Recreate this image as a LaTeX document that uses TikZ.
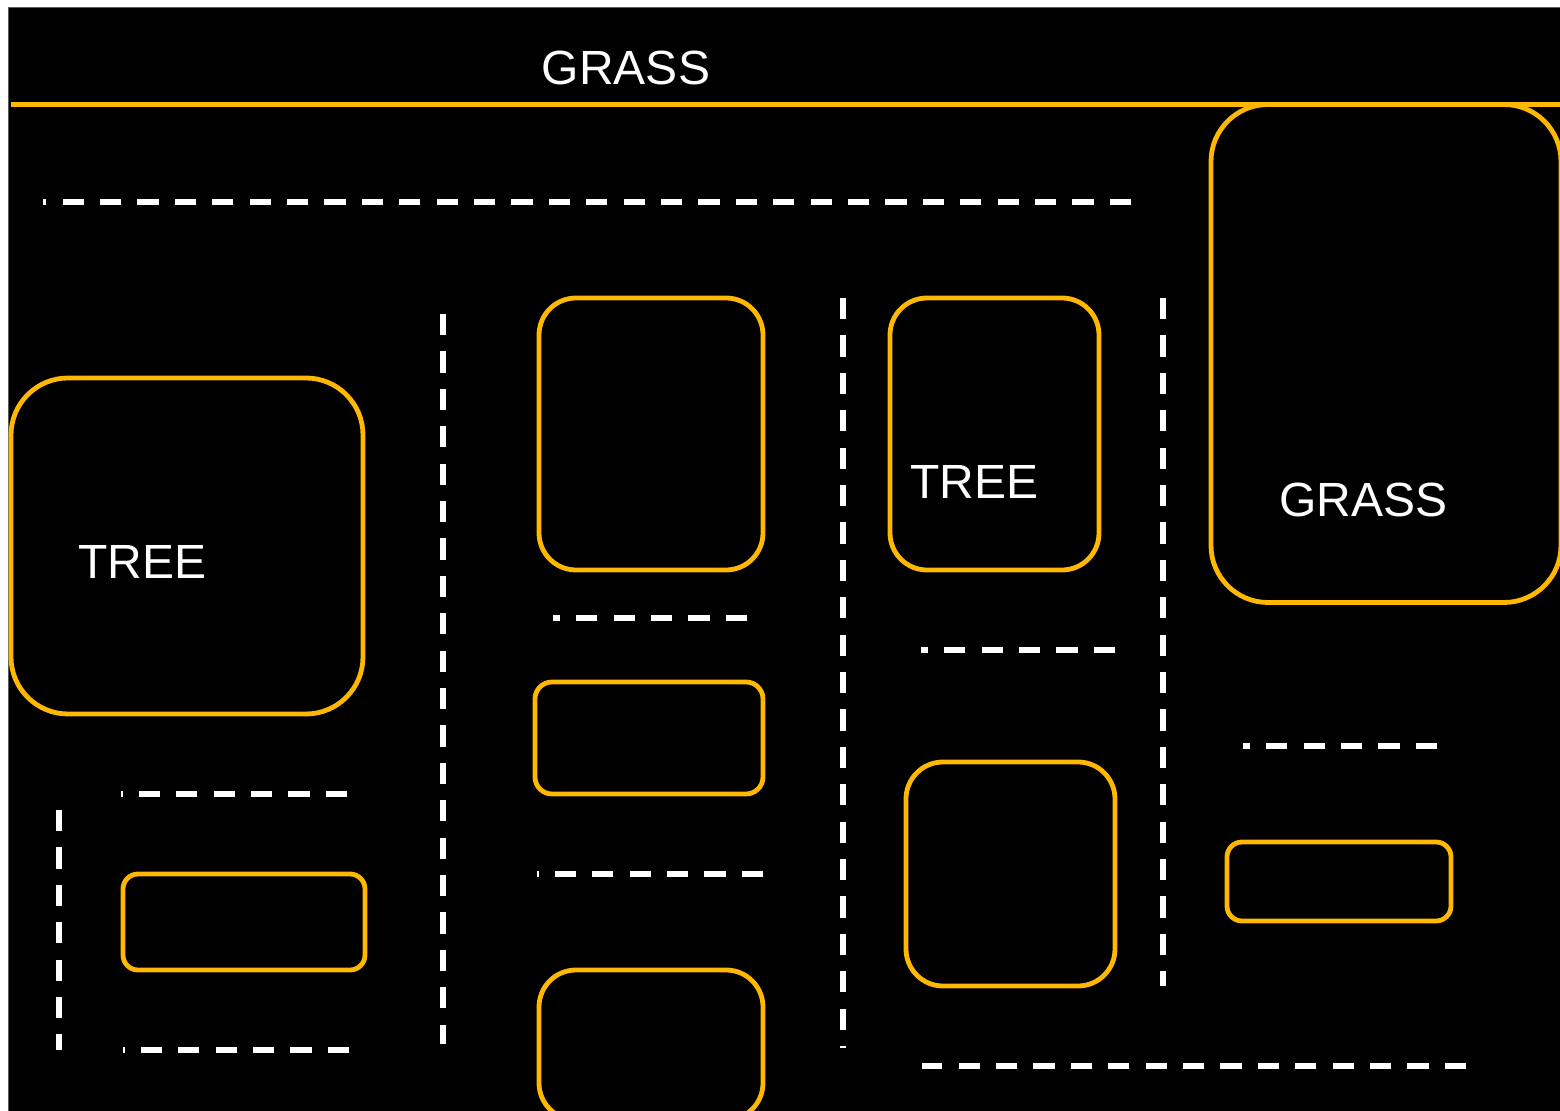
\documentclass[tikz,border=0pt]{standalone}
\usepackage{fontspec}
\setmainfont{Liberation Sans}
\definecolor{amber}{RGB}{255,184,0}
\definecolor{edgegray}{RGB}{90,90,90}
\tikzset{
  box/.style={draw=amber, line width=2.4pt, fill=black, inner sep=0pt, outer sep=0pt},
  dashline/.style={draw=white, line width=2.7pt, dash pattern=on 10.6pt off 8.1pt},
  lbl/.style={text=white, font=\fontsize{24pt}{27pt}\selectfont, inner sep=0pt},
}
\begin{document}
\begin{tikzpicture}[x=0.5pt,y=-0.5pt]
\useasboundingbox (0,0) rectangle (1560,1111);
\fill[white] (0,0) rectangle (1560,1111);
\clip (0,0) rectangle (1560,1111);
\draw[edgegray, line width=0.6pt, fill=black] (8.5,7.5) rectangle (1570,1120);
% top band line
\coordinate (topL) at (11,105);
\coordinate (topR) at (1570,105);
\node[lbl] (grassTop) at (626,68) {GRASS};
% boxes
\node[box, minimum width=175pt, minimum height=249pt, rounded corners=28.5pt] (b8) at (1386,353.5) {};
\draw[amber, line width=2.5pt] (topL) -- (topR);
\node[box, minimum width=176pt, minimum height=168pt, rounded corners=28.5pt] (b1) at (187,546) {};
\node[box, minimum width=112pt, minimum height=136pt, rounded corners=18.5pt] (b2) at (651,434) {};
\node[box, minimum width=114pt, minimum height=56pt, rounded corners=8.5pt] (b3) at (649,738) {};
\node[box, minimum width=112pt, minimum height=75pt, rounded corners=18.5pt] (b4) at (651,1045) {};
\node[box, minimum width=121pt, minimum height=48pt, rounded corners=7.5pt] (b5) at (244,922) {};
\node[box, minimum width=104.5pt, minimum height=136pt, rounded corners=18.5pt] (b6) at (994.5,434) {};
\node[box, minimum width=104.5pt, minimum height=112pt, rounded corners=18.5pt] (b7) at (1010.5,874) {};
\node[box, minimum width=112pt, minimum height=39.5pt, rounded corners=7.5pt] (b9) at (1339,881.5) {};
% labels
\node[lbl, anchor=west] (treeA) at (78,562) {TREE};
\node[lbl, anchor=west] (treeB) at (910,482) {TREE};
\node[lbl, anchor=west] (grassB) at (1279,500) {GRASS};
% dashed lines
\coordinate (h1a) at (1131,202); \coordinate (h1b) at (43,202);
\coordinate (v1a) at (443,314);  \coordinate (v1b) at (443,1044);
\coordinate (h2a) at (747,618);  \coordinate (h2b) at (553,618);
\coordinate (h3a) at (763,874);  \coordinate (h3b) at (537,874);
\coordinate (v2a) at (843,298);  \coordinate (v2b) at (843,1048);
\coordinate (h4a) at (1115,650); \coordinate (h4b) at (921,650);
\coordinate (v3a) at (1163,298); \coordinate (v3b) at (1163,986);
\coordinate (h5a) at (1437,746); \coordinate (h5b) at (1243,746);
\coordinate (h6a) at (1466,1066);\coordinate (h6b) at (922,1066);
\coordinate (h7a) at (347,794);  \coordinate (h7b) at (121,794);
\coordinate (h8a) at (349,1050); \coordinate (h8b) at (123,1050);
\coordinate (v4a) at (59,810);   \coordinate (v4b) at (59,1050);
\foreach \p in {h1,v1,h2,h3,v2,h4,v3,h5,h6,h7,h8,v4}
  \draw[dashline] (\p a) -- (\p b);
\end{tikzpicture}
\end{document}
